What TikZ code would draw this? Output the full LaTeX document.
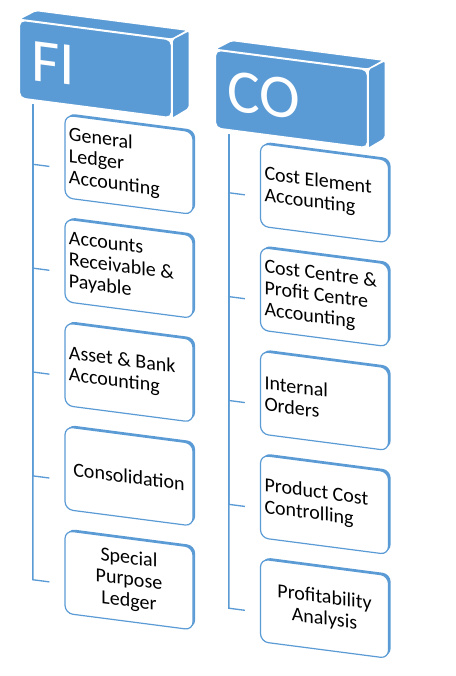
\documentclass[tikz,border=0pt]{standalone}
\usepackage{fontspec}
\setmainfont{Carlito}
\definecolor{smartBlue}{RGB}{91,155,213}
\usetikzlibrary{positioning,calc,shadows}

\begin{document}
\begin{tikzpicture}[
  x=0.75pt, y=-0.75pt,
  node distance=15pt,
  head/.style={
    fill=smartBlue, draw=white, line width=1pt, rounded corners=4pt,
    minimum width=114pt, minimum height=58.5pt, inner xsep=9pt,
    text width=96pt, align=flush left, text=white, font=\fontsize{46}{46}\selectfont
  },
  face/.style={fill=smartBlue, draw=white, line width=1pt, rounded corners=1.5pt},
  item/.style={
    draw=smartBlue, fill=white, line width=0.9pt, rounded corners=6pt,
    minimum width=96pt, minimum height=62pt, inner xsep=3pt,
    text width=90pt, align=flush left, font=\fontsize{15}{16.2}\selectfont,
    drop shadow={shadow xshift=1.6pt, shadow yshift=1.4pt, fill=smartBlue, opacity=1}
  },
  link/.style={draw=smartBlue, line width=1pt}
]
  \useasboundingbox (0,0) rectangle (456,676);
  \begin{scope}[yslant=-0.13, every node/.append style={transform shape}]
    % headers
    \node[head] (fi) at (95.5,56.5) {FI};
    \node[head] (co) at (291.5,61) {CO};
    \path[face] (fi.north west) -- ++(17,-11) -- ++(152,0) -- (fi.north east) -- cycle;
    \path[face] (fi.north east) -- ++(17,-11) -- ++(0,78) -- (fi.south east) -- cycle;
    \path[face] (co.north west) -- ++(17,-11) -- ++(152,0) -- (co.north east) -- cycle;
    \path[face] (co.north east) -- ++(17,-11) -- ++(0,78) -- (co.south east) -- cycle;

    % FI items
    \node[item] (fi1) at (129,148) {General\\Ledger\\Accounting};
    \node[item, below=of fi1] (fi2) {Accounts\\Receivable \&\\Payable};
    \node[item, below=of fi2] (fi3) {Asset \& Bank\\Accounting};
    \node[item, below=of fi3, align=flush center] (fi4) {Consolidation};
    \node[item, below=of fi4, align=flush center] (fi5) {Special\\Purpose\\Ledger};

    % CO items
    \node[item] (co1) at (324.5,151) {Cost Element\\Accounting};
    \node[item, below=of co1] (co2) {Cost Centre \&\\Profit Centre\\Accounting};
    \node[item, below=of co2] (co3) {Internal\\Orders};
    \node[item, below=of co3] (co4) {Product Cost\\Controlling};
    \node[item, below=of co4, align=flush center] (co5) {Profitability\\Analysis};

    % links
    \coordinate (fi-root) at ($(fi.south west)+(14,4)$);
    \coordinate (co-root) at ($(co.south west)+(14,4)$);
    \draw[link] (fi-root) |- ($(fi1.west)+(-15,12)$);
    \draw[link] (fi-root) |- ($(fi2.west)+(-15,12)$);
    \draw[link] (fi-root) |- ($(fi3.west)+(-15,12)$);
    \draw[link] (fi-root) |- ($(fi4.west)+(-15,12)$);
    \draw[link] (fi-root) |- ($(fi5.west)+(-15,12)$);
    \draw[link] (co-root) |- ($(co1.west)+(-15,12)$);
    \draw[link] (co-root) |- ($(co2.west)+(-15,12)$);
    \draw[link] (co-root) |- ($(co3.west)+(-15,12)$);
    \draw[link] (co-root) |- ($(co4.west)+(-15,12)$);
    \draw[link] (co-root) |- ($(co5.west)+(-15,12)$);
  \end{scope}
\end{tikzpicture}
\end{document}
